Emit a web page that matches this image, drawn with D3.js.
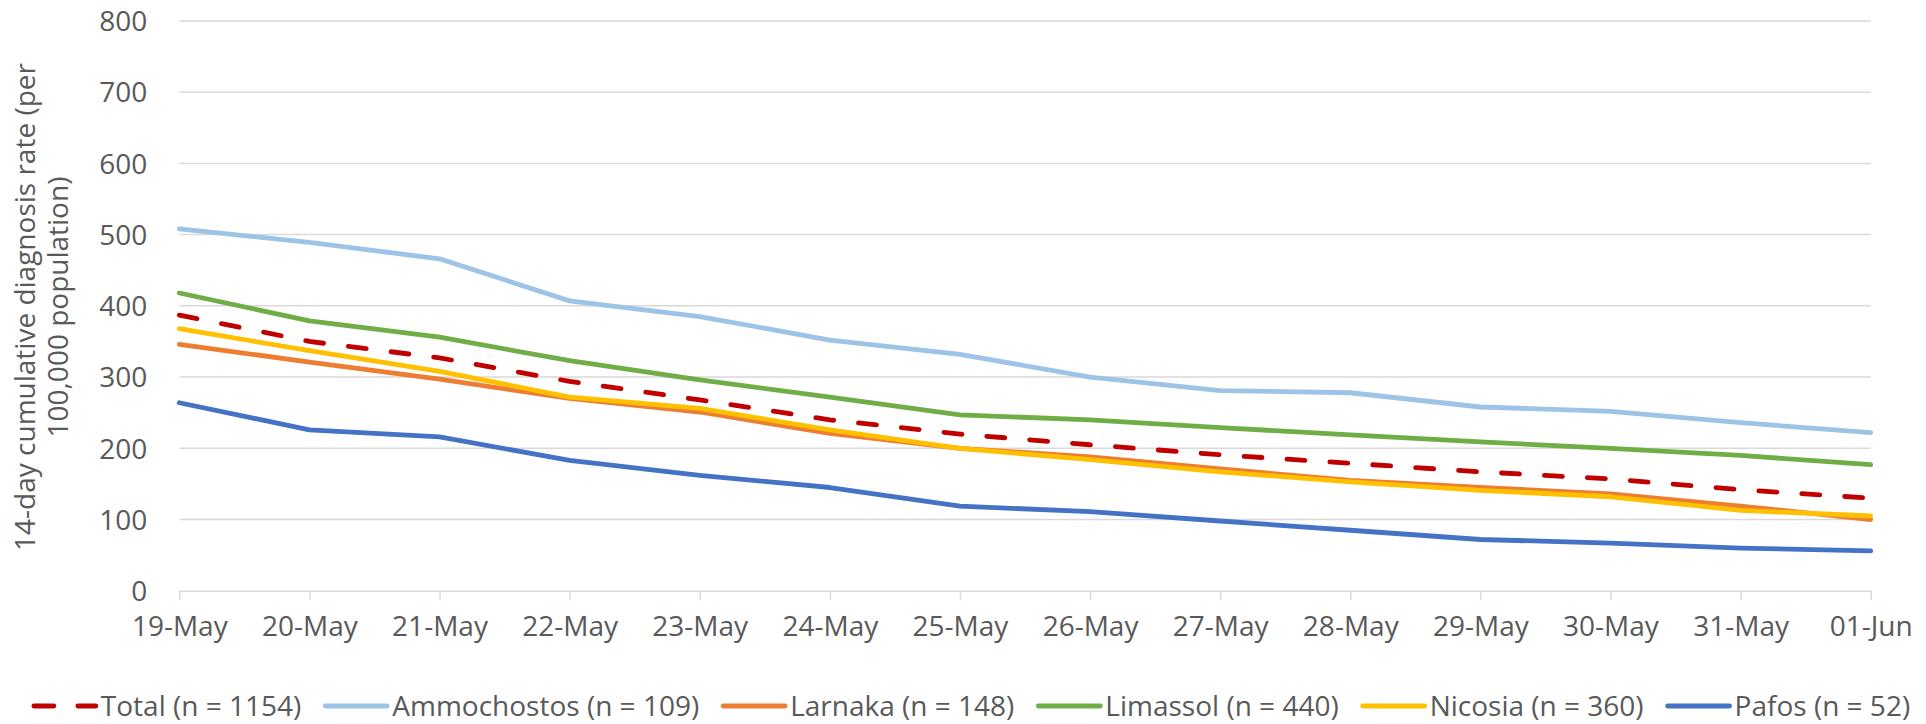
<!DOCTYPE html>
<html>
<head>
<meta charset="utf-8">
<script src="https://cdn.jsdelivr.net/npm/d3@7"></script>
<style>
  html, body { margin: 0; padding: 0; background: #fff; }
  svg { display: block; }
  text { font-family: "Open Sans", "Noto Sans", sans-serif; fill: #595959; }
</style>
</head>
<body>
<svg id="chart" width="1926" height="724"></svg>
<script>
// ---- data ----
const dates = ["19-May","20-May","21-May","22-May","23-May","24-May","25-May","26-May","27-May","28-May","29-May","30-May","31-May","01-Jun"];
const yTicks = [0, 100, 200, 300, 400, 500, 600, 700, 800];
const seriesNames = ["Total (n = 1154)","Ammochostos (n = 109)","Larnaka (n = 148)","Limassol (n = 440)","Nicosia (n = 360)","Pafos (n = 52)"];
const total       = [387, 350, 327, 294, 268, 240, 220, 205, 191, 179, 167, 157, 142, 130];
const ammochostos = [508, 489, 466, 407, 385, 352, 332, 300, 281, 278, 258, 252, 236, 222];
const larnaka     = [346, 321, 297, 270, 251, 221, 200, 188, 171, 155, 145, 136, 119, 100];
const limassol    = [418, 379, 356, 323, 296, 272, 247, 240, 229, 219, 209, 200, 190, 177];
const nicosia     = [368, 337, 308, 272, 256, 226, 200, 184, 167, 153, 141, 132, 113, 105];
const pafos       = [264, 226, 216, 183, 162, 145, 119, 111,  98,  85,  72,  67,  60,  56];
const seriesValues = [total, ammochostos, larnaka, limassol, nicosia, pafos];
const colors = ["#C00000","#9DC3E6","#ED7D31","#70AD47","#FFC000","#4472C4"];
const dashed = [true, false, false, false, false, false];
const yTitle = ["14-day cumulative diagnosis rate (per", "100,000 population)"];

// ---- layout ----
const svg = d3.select("#chart");
const plotLeft = 179.3, plotRight = 1870.7, plotTop = 20.9, plotBottom = 590.8;
const x = d3.scalePoint().domain(dates).range([plotLeft, plotRight]);
const y = d3.scaleLinear().domain([0, 800]).range([plotBottom, plotTop]);
const grid = "#D9D9D9";
const lw = 4.8;
const dashArr = "18,25";

// gridlines
svg.append("g").selectAll("line").data(yTicks.filter(d => d > 0)).join("line")
  .attr("x1", plotLeft).attr("x2", plotRight)
  .attr("y1", d => y(d)).attr("y2", d => y(d))
  .attr("stroke", grid).attr("stroke-width", 1.5);

// y axis labels
const yAxis = d3.axisLeft(y).tickValues(yTicks).tickSize(0).tickPadding(0).tickFormat(d3.format("d"));
const gy = svg.append("g").attr("transform", `translate(${plotLeft - 32},0)`).call(yAxis);
gy.select(".domain").remove();
gy.selectAll("text").attr("font-size", 28).attr("dy", "0.35em")
  .style("font-family", '"Open Sans", sans-serif').attr("fill", "#595959");

// x axis
const xAxis = d3.axisBottom(x).tickSizeInner(9).tickSizeOuter(0).tickPadding(16);
const gx = svg.append("g").attr("transform", `translate(0,${plotBottom})`).call(xAxis);
gx.select(".domain").attr("stroke", grid).attr("stroke-width", 1.5);
gx.selectAll(".tick line").attr("stroke", grid).attr("stroke-width", 1.5);
gx.selectAll("text").attr("font-size", 28)
  .style("font-family", '"Open Sans", sans-serif').attr("fill", "#595959");

// y axis title
const tg = svg.append("g").attr("transform", `translate(0,307) rotate(-90)`);
tg.selectAll("text").data(yTitle).join("text")
  .attr("x", 0).attr("y", (d, i) => i === 0 ? 35 : 68)
  .attr("text-anchor", "middle").attr("font-size", 28)
  .text(d => d);

// lines
const line = d3.line().x((d, i) => x(dates[i])).y(d => y(d));
svg.append("g").selectAll("path").data(seriesValues).join("path")
  .attr("d", d => line(d))
  .attr("fill", "none")
  .attr("stroke", (d, i) => colors[i])
  .attr("stroke-width", lw)
  .attr("stroke-linejoin", "round")
  .attr("stroke-linecap", "round")
  .attr("stroke-dasharray", (d, i) => dashed[i] ? dashArr : null);

// legend
const lg = svg.append("g");
const legY = 706, sampleW = 62, sampleGap = 5, itemGap = 24;
const items = lg.selectAll("g").data(seriesNames).join("g");
items.append("line")
  .attr("x1", 0).attr("x2", sampleW).attr("y1", 0).attr("y2", 0)
  .attr("stroke", (d, i) => colors[i]).attr("stroke-width", lw)
  .attr("stroke-linecap", "round")
  .attr("stroke-dasharray", (d, i) => dashed[i] ? "20,24" : null);
items.append("text")
  .attr("x", sampleW + sampleGap).attr("y", 0).attr("dy", "0.35em")
  .attr("font-size", 28).text(d => d);
let widths = [];
items.each(function () { widths.push(this.querySelector("text").getComputedTextLength() + sampleW + sampleGap); });
const totalW = d3.sum(widths) + itemGap * (widths.length - 1);
let cx = 972 - totalW / 2;
items.attr("transform", (d, i) => {
  const t = `translate(${cx},${legY})`;
  cx += widths[i] + itemGap;
  return t;
});
</script>
</body>
</html>
